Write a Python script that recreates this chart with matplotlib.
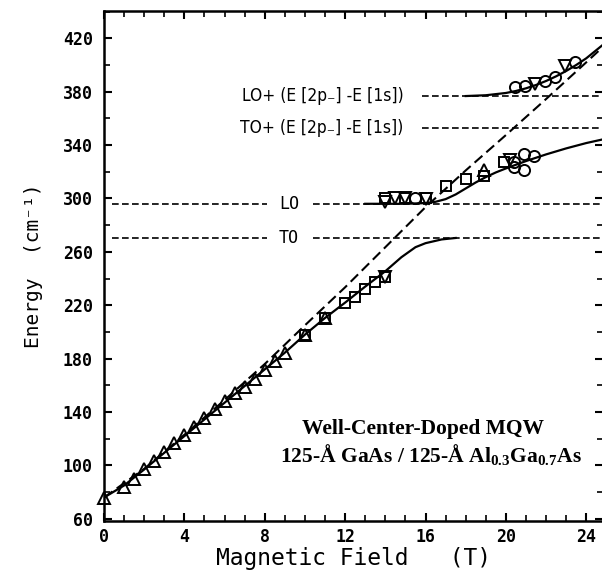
import numpy as np
import matplotlib.pyplot as plt
from matplotlib.ticker import MultipleLocator

# phonon levels (cm-1)
E_TO = 270.5
E_LO = 296.0
E_TO_2p = 353.0
E_LO_2p = 376.5

# dashed diagonal (no polaron coupling)
B_dash = [0, 2, 4, 6, 8, 10, 12, 14, 16, 18, 20, 22, 24, 24.9]
E_dash = [76, 97.5, 123, 149, 176, 205, 233.5, 263.5, 293.5, 321, 347.5, 374.5, 402, 414.5]

# solid curves: lower, middle and upper branch
B_low = [0, 1, 2, 3, 4, 5, 6, 7, 8, 9, 10, 11, 12, 13, 14, 14.8, 15.5, 16, 16.8, 17.5]
E_low = [76, 85, 97, 109.5, 122, 134.5, 147, 159.5, 172, 184.5, 198, 210.5, 222, 234, 245.5, 256, 263.5, 266.5, 269.3, 270.4]
B_mid = [13, 15, 16, 16.5, 17, 17.5, 18, 18.5, 19, 19.5, 20, 21, 22, 23, 24, 24.9]
E_mid = [296, 296, 296.5, 297.5, 299.5, 303, 307.5, 312, 316, 319.5, 322.5, 328, 333, 337.5, 341.5, 344.5]
B_top = [18, 19, 20, 20.5, 21, 21.5, 22, 22.5, 23, 23.5, 24, 24.9]
E_top = [376.7, 377.3, 379, 380.5, 382.5, 385, 388, 391.5, 395.5, 400, 405, 416]

# measured points
B_up = [0, 1, 1.5, 2, 2.5, 3, 3.5, 4, 4.5, 5, 5.5, 6, 6.5, 7, 7.5, 8, 8.5, 9, 10, 11, 18.9]
E_up = [76, 84, 90, 97, 103.5, 110, 116.5, 123, 129, 135.5, 142, 148, 154, 159, 165, 171.5, 178, 184.5, 198, 210.5, 321]
B_sq = [10, 11, 12, 12.5, 13, 13.5, 14, 14, 15, 16, 17, 18, 18.9, 19.9]
E_sq = [198, 210.5, 221.5, 226.5, 232.5, 237.5, 241.5, 300.5, 300.5, 300.5, 309, 314.5, 317, 327]
B_dn = [14, 14, 14.5, 15, 16, 20.2, 21.45, 22.95]
E_dn = [241.5, 297, 300, 300, 299.5, 328.5, 386, 399]
B_ci = [15.5, 20.4, 20.4, 20.9, 20.9, 21.4, 20.45, 20.95, 21.95, 22.45, 23.45]
E_ci = [300.5, 327.5, 323.5, 333, 321, 331.5, 383.5, 384, 388, 391, 402.5]

plt.rcParams['mathtext.fontset'] = 'custom'
plt.rcParams['mathtext.rm'] = 'Liberation Serif:bold'
plt.rcParams['mathtext.bf'] = 'Liberation Serif:bold'
plt.rcParams['mathtext.it'] = 'Liberation Serif:bold:italic'

fig = plt.figure(figsize=(6.02, 5.8), dpi=100)
ax = fig.add_axes([104 / 602, 59 / 580, 499 / 602, 510 / 580])

# horizontal phonon lines
hd = dict(color='k', lw=1.2, ls=(0, (4, 2)))
for E in (E_LO, E_TO):
    ax.plot([0.4, 8.1], [E, E], **hd)
    ax.plot([10.4, 24.9], [E, E], **hd)
for E in (E_LO_2p, E_TO_2p):
    ax.plot([15.8, 24.9], [E, E], **hd)

ax.plot(B_dash, E_dash, color='k', lw=1.5, ls=(0, (5, 2.5)))
for B, E in ((B_low, E_low), (B_mid, E_mid), (B_top, E_top)):
    ax.plot(B, E, color='k', lw=1.6)

mk = dict(ls='none', mfc='none', mec='k', mew=1.4, ms=8)
ax.plot(B_up, E_up, marker='^', clip_on=False, **mk)
ax.plot(B_sq, E_sq, marker='s', ls='none', mfc='none', mec='k', mew=1.4, ms=7.5)
ax.plot(B_dn, E_dn, marker='v', **mk)
ax.plot(B_ci, E_ci, marker='o', **mk)

# labels on the lines
lab = dict(family='DejaVu Sans Mono', fontsize=12, ha='center', va='center')
ax.text(9.2, E_LO, 'LO', **lab)
ax.text(9.2, E_TO, 'TO', **lab)
lab2 = dict(family='DejaVu Sans', fontstretch='condensed', fontsize=12.5, ha='right', va='center')
ax.text(14.9, E_LO_2p, 'LO+ (E [2p₋] -E [1s])', **lab2)
ax.text(14.9, E_TO_2p, 'TO+ (E [2p₋] -E [1s])', **lab2)

ser = dict(family='Liberation Serif', fontweight='bold', fontsize=15.5, ha='center', va='center')
ax.text(15.87, 127.3, 'Well-Center-Doped MQW', **ser)
ax.text(16.27, 107.9, r'125-Å GaAs / 125-Å Al$_{0.3}$Ga$_{0.7}$As', **ser)

ax.set_xlim(0, 24.83)
ax.set_ylim(58.4, 440.4)
ax.xaxis.set_major_locator(MultipleLocator(4))
ax.xaxis.set_minor_locator(MultipleLocator(1))
ax.set_yticks(np.arange(60, 421, 40))
ax.yaxis.set_minor_locator(MultipleLocator(20))
ax.tick_params(which='both', direction='in', top=True, right=True)
ax.tick_params(which='major', length=6, width=1.5)
ax.tick_params(which='minor', length=4, width=1.2)
ax.tick_params(axis='x', which='major', pad=5)
ax.tick_params(axis='y', which='major', pad=8)
for t in ax.get_xticklabels() + ax.get_yticklabels():
    t.set_family('DejaVu Sans Mono')
    t.set_fontweight('bold')
    t.set_fontsize(12)
for s in ax.spines.values():
    s.set_linewidth(1.8)

ax.set_xlabel('Magnetic Field   (T)', family='DejaVu Sans Mono', fontsize=16.5, labelpad=1)
ax.set_ylabel('Energy  (cm⁻¹)', family='DejaVu Sans Mono', fontsize=14, labelpad=14)

fig.savefig('out.png', dpi=100)
